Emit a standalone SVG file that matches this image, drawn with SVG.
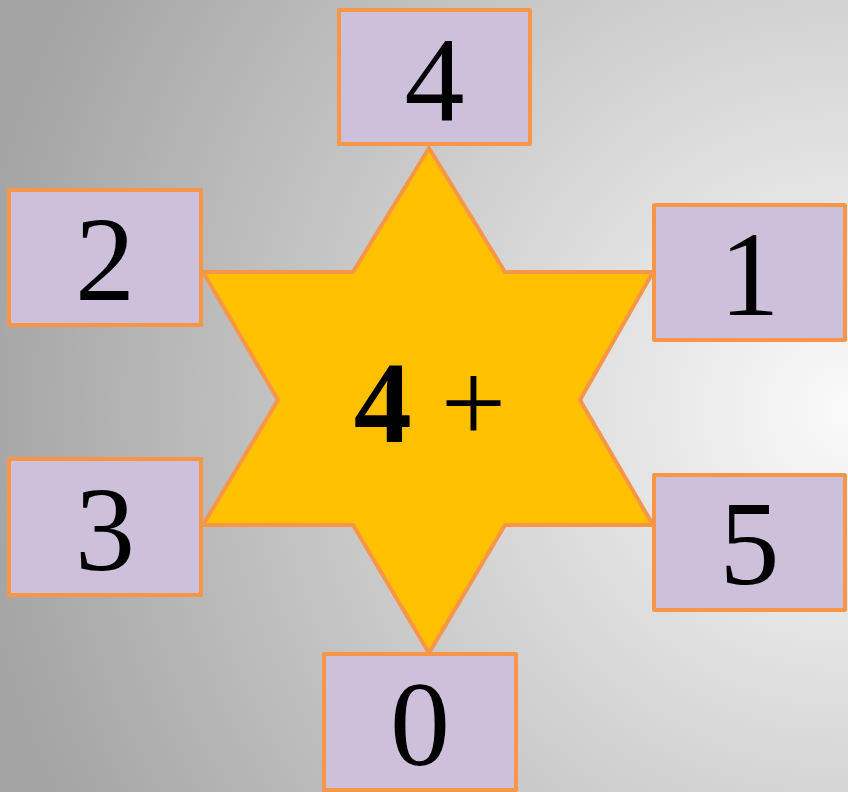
<svg xmlns="http://www.w3.org/2000/svg" width="848" height="792" viewBox="0 0 848 792">
<defs>
<radialGradient id="bg" gradientUnits="userSpaceOnUse" cx="848" cy="410" r="880">
<stop offset="0" stop-color="#fafafa"/>
<stop offset="1" stop-color="#a4a4a4"/>
</radialGradient>
<style>
.box{fill:#CCC0DA;stroke:#F79646;stroke-width:4;stroke-linejoin:round}
.num{font-family:"Liberation Serif","Times New Roman",serif;font-size:120px;fill:#000;text-anchor:middle}
.star{fill:#FFC000;stroke:#F79646;stroke-width:4;stroke-linejoin:miter}
</style>
</defs>
<rect x="0" y="0" width="848" height="792" fill="url(#bg)"/>
<g id="star">
<polygon class="star" points="429,148 505,272 653,272 580,400 653,525 505,525 429,653 353,525 203,525 278,400 203,272 353,272"/>
<text x="430" y="442" font-family="'Liberation Serif','Times New Roman',serif" font-size="116" text-anchor="middle"><tspan font-weight="bold">4</tspan> +</text>
</g>
<g id="connectors"></g>
<g id="n4">
<rect class="box" x="339" y="10" width="191" height="134"/>
<text class="num" x="434.5" y="120">4</text>
</g>
<g id="n2">
<rect class="box" x="9" y="190" width="192" height="135"/>
<text class="num" x="105" y="300">2</text>
</g>
<g id="n1">
<rect class="box" x="654" y="205" width="191" height="135"/>
<text class="num" x="749.5" y="315">1</text>
</g>
<g id="n3">
<rect class="box" x="9" y="459" width="192" height="136"/>
<text class="num" x="105" y="570">3</text>
</g>
<g id="n5">
<rect class="box" x="654" y="475" width="191" height="135"/>
<text class="num" x="749.5" y="584">5</text>
</g>
<g id="n0">
<rect class="box" x="324" y="654" width="192" height="136"/>
<text class="num" x="420" y="765">0</text>
</g>
</svg>
